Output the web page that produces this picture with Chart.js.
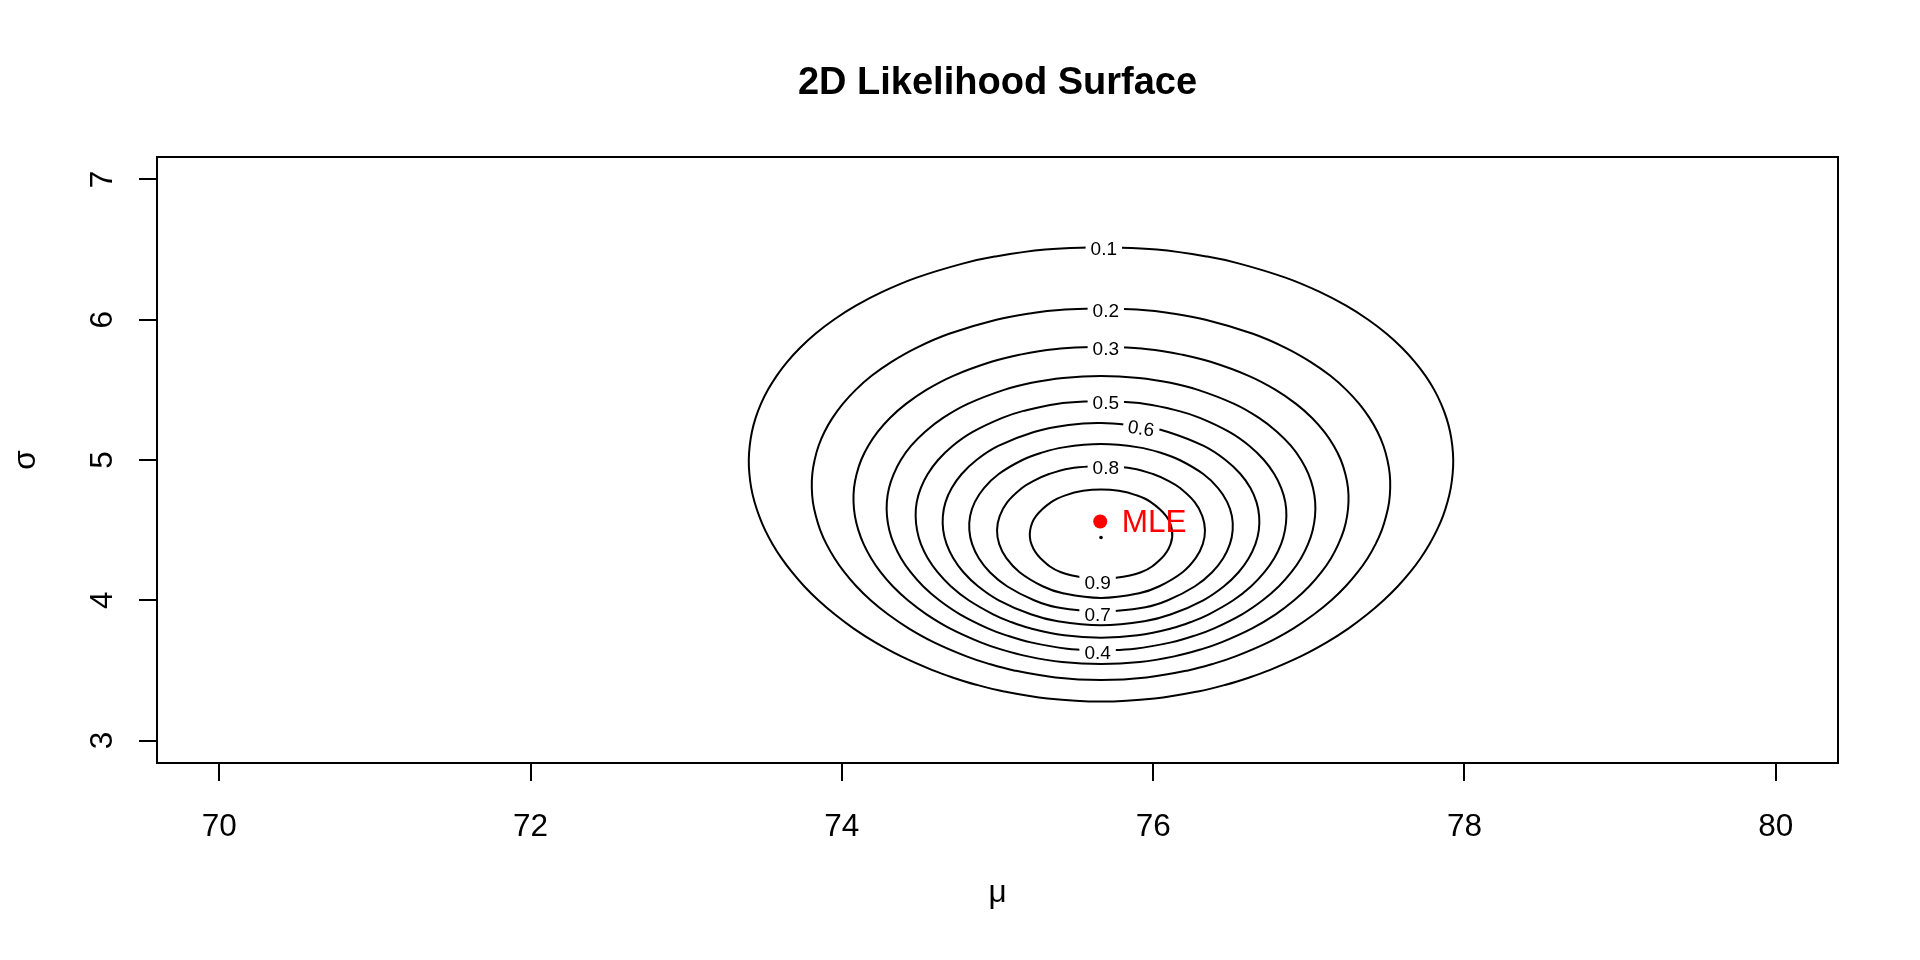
<!DOCTYPE html>
<html>
<head>
<meta charset="utf-8">
<script src="https://cdn.jsdelivr.net/npm/chart.js@4.4.0/dist/chart.umd.min.js"></script>
<style>
html,body{margin:0;padding:0;background:#ffffff;}
#wrap{width:1920px;height:960px;position:relative;}
</style>
</head>
<body>
<div id="wrap"><canvas id="c"></canvas></div>
<script>
// ---------------- values ----------------
const chartTitle = '2D Likelihood Surface';
const xTitle = 'μ';
const yTitle = 'σ';
const xTicks = [70, 72, 74, 76, 78, 80];
const yTicks = [3, 4, 5, 6, 7];
const levels = ['0.1', '0.2', '0.3', '0.4', '0.5', '0.6', '0.7', '0.8', '0.9'];

// contour lines, [mu, sigma] points traced round each closed curve
const contour01 = [
  [75.665,6.519],[75.307,6.50],[74.982,6.45],[74.776,6.40],[74.480,6.30],[74.263,6.20],[74.090,6.10],
  [73.948,6.00],[73.830,5.90],[73.732,5.80],[73.649,5.70],[73.581,5.60],[73.525,5.50],[73.480,5.40],
  [73.446,5.30],[73.422,5.20],[73.408,5.10],[73.402,5.00],[73.406,4.90],[73.418,4.80],[73.439,4.70],
  [73.469,4.60],[73.507,4.50],[73.555,4.40],[73.612,4.30],[73.680,4.20],[73.758,4.10],[73.849,4.00],
  [73.954,3.90],[74.074,3.80],[74.215,3.70],[74.382,3.60],[74.587,3.50],[74.711,3.45],[74.857,3.40],
  [75.042,3.35],[75.321,3.30],[75.665,3.278],[76.010,3.30],[76.288,3.35],[76.473,3.40],[76.619,3.45],
  [76.743,3.50],[76.948,3.60],[77.115,3.70],[77.256,3.80],[77.376,3.90],[77.481,4.00],[77.572,4.10],
  [77.651,4.20],[77.718,4.30],[77.775,4.40],[77.823,4.50],[77.862,4.60],[77.891,4.70],[77.912,4.80],
  [77.924,4.90],[77.928,5.00],[77.922,5.10],[77.908,5.20],[77.884,5.30],[77.850,5.40],[77.806,5.50],
  [77.750,5.60],[77.681,5.70],[77.598,5.80],[77.500,5.90],[77.382,6.00],[77.240,6.10],[77.067,6.20],
  [76.850,6.30],[76.554,6.40],[76.348,6.45],[76.023,6.50],[75.665,6.519]
];
const contour02 = [
  [75.665,6.0825],[75.397,6.07],[75.238,6.05],[74.993,6.00],[74.689,5.90],[74.479,5.80],[74.319,5.70],
  [74.191,5.60],[74.089,5.50],[74.006,5.40],[73.940,5.30],[73.888,5.20],[73.850,5.10],[73.825,5.00],
  [73.810,4.90],[73.807,4.80],[73.814,4.70],[73.833,4.60],[73.861,4.50],[73.901,4.40],[73.953,4.30],
  [74.016,4.20],[74.093,4.10],[74.185,4.00],[74.296,3.90],[74.429,3.80],[74.592,3.70],[74.801,3.60],
  [74.935,3.55],[75.106,3.50],[75.373,3.45],[75.665,3.432],[75.957,3.45],[76.224,3.50],[76.395,3.55],
  [76.529,3.60],[76.739,3.70],[76.902,3.80],[77.034,3.90],[77.145,4.00],[77.237,4.10],[77.314,4.20],
  [77.378,4.30],[77.429,4.40],[77.469,4.50],[77.497,4.60],[77.516,4.70],[77.523,4.80],[77.520,4.90],
  [77.505,5.00],[77.480,5.10],[77.442,5.20],[77.390,5.30],[77.324,5.40],[77.241,5.50],[77.139,5.60],
  [77.011,5.70],[76.851,5.80],[76.641,5.90],[76.337,6.00],[76.092,6.05],[75.933,6.07],[75.665,6.0825]
];
const contour03 = [
  [75.665,5.8087],[75.364,5.79],[75.141,5.75],[74.961,5.70],[74.716,5.60],[74.543,5.50],[74.412,5.40],
  [74.309,5.30],[74.230,5.20],[74.169,5.10],[74.124,5.00],[74.095,4.90],[74.078,4.80],[74.075,4.70],
  [74.084,4.60],[74.106,4.50],[74.140,4.40],[74.188,4.30],[74.249,4.20],[74.327,4.10],[74.424,4.00],
  [74.544,3.90],[74.694,3.80],[74.892,3.70],[75.022,3.65],[75.195,3.60],[75.415,3.56],[75.665,3.545],
  [75.915,3.56],[76.136,3.60],[76.308,3.65],[76.438,3.70],[76.636,3.80],[76.787,3.90],[76.906,4.00],
  [77.003,4.10],[77.081,4.20],[77.143,4.30],[77.190,4.40],[77.225,4.50],[77.246,4.60],[77.255,4.70],
  [77.252,4.80],[77.235,4.90],[77.206,5.00],[77.161,5.10],[77.100,5.20],[77.021,5.30],[76.918,5.40],
  [76.787,5.50],[76.614,5.60],[76.369,5.70],[76.189,5.75],[75.966,5.79],[75.665,5.8087]
];
const contour04 = [
  [75.665,3.642],[75.447,3.655],[75.214,3.70],[75.057,3.75],[74.938,3.80],[74.759,3.90],[74.626,4.00],
  [74.522,4.10],[74.442,4.20],[74.380,4.30],[74.335,4.40],[74.305,4.50],[74.290,4.60],[74.289,4.70],
  [74.303,4.80],[74.333,4.90],[74.379,5.00],[74.444,5.10],[74.533,5.20],[74.650,5.30],[74.809,5.40],
  [75.042,5.50],[75.219,5.55],[75.421,5.585],[75.665,5.5995],[75.909,5.585],[76.111,5.55],[76.288,5.50],
  [76.521,5.40],[76.680,5.30],[76.797,5.20],[76.886,5.10],[76.951,5.00],[76.998,4.90],[77.027,4.80],
  [77.041,4.70],[77.040,4.60],[77.025,4.50],[76.995,4.40],[76.950,4.30],[76.888,4.20],[76.808,4.10],
  [76.704,4.00],[76.571,3.90],[76.392,3.80],[76.273,3.75],[76.116,3.70],[75.883,3.655],[75.665,3.642]
];
const contour05 = [
  [75.665,5.423],[75.380,5.40],[75.167,5.35],[75.031,5.30],[74.841,5.20],[74.711,5.10],[74.618,5.00],
  [74.552,4.90],[74.507,4.80],[74.481,4.70],[74.474,4.60],[74.483,4.50],[74.508,4.40],[74.552,4.30],
  [74.615,4.20],[74.700,4.10],[74.815,4.00],[74.972,3.90],[75.076,3.85],[75.211,3.80],[75.429,3.75],
  [75.665,3.7327],[75.901,3.75],[76.119,3.80],[76.254,3.85],[76.358,3.90],[76.515,4.00],[76.630,4.10],
  [76.715,4.20],[76.778,4.30],[76.822,4.40],[76.847,4.50],[76.856,4.60],[76.849,4.70],[76.823,4.80],
  [76.778,4.90],[76.712,5.00],[76.619,5.10],[76.489,5.20],[76.300,5.30],[76.163,5.35],[75.950,5.40],
  [75.665,5.423]
];
const contour06 = [
  [75.925,5.241],[75.665,5.2638],[75.456,5.25],[75.234,5.20],[75.005,5.10],[74.865,5.00],[74.770,4.90],
  [74.706,4.80],[74.666,4.70],[74.649,4.60],[74.651,4.50],[74.673,4.40],[74.716,4.30],[74.781,4.20],
  [74.875,4.10],[75.008,4.00],[75.214,3.90],[75.387,3.85],[75.665,3.8217],[75.943,3.85],[76.116,3.90],
  [76.322,4.00],[76.455,4.10],[76.549,4.20],[76.614,4.30],[76.657,4.40],[76.679,4.50],[76.681,4.60],
  [76.664,4.70],[76.625,4.80],[76.561,4.90],[76.465,5.00],[76.325,5.10],[76.096,5.20],[75.925,5.241]
];
const contour07 = [
  [75.665,3.914],[75.380,3.95],[75.235,4.00],[75.061,4.10],[74.951,4.20],[74.880,4.30],[74.837,4.40],
  [74.819,4.50],[74.824,4.60],[74.854,4.70],[74.913,4.80],[75.008,4.90],[75.160,5.00],[75.278,5.05],
  [75.423,5.09],[75.665,5.1134],[75.907,5.09],[76.053,5.05],[76.170,5.00],[76.322,4.90],[76.417,4.80],
  [76.476,4.70],[76.506,4.60],[76.511,4.50],[76.493,4.40],[76.450,4.30],[76.379,4.20],[76.269,4.10],
  [76.095,4.00],[75.950,3.95],[75.665,3.914]
];
const contour08 = [
  [75.665,4.9596],[75.464,4.94],[75.331,4.90],[75.229,4.85],[75.157,4.80],[75.063,4.70],[75.014,4.60],
  [74.997,4.50],[75.011,4.40],[75.057,4.30],[75.142,4.20],[75.290,4.10],[75.420,4.05],[75.665,4.0165],
  [75.910,4.05],[76.040,4.10],[76.189,4.20],[76.273,4.30],[76.319,4.40],[76.333,4.50],[76.316,4.60],
  [76.267,4.70],[76.173,4.80],[76.101,4.85],[75.999,4.90],[75.866,4.94],[75.665,4.9596]
];
const contour09 = [
  [75.665,4.143],[75.408,4.20],[75.276,4.30],[75.218,4.40],[75.210,4.50],[75.247,4.60],[75.345,4.70],
  [75.441,4.75],[75.550,4.78],[75.665,4.790],[75.780,4.78],[75.889,4.75],[75.985,4.70],[76.084,4.60],
  [76.121,4.50],[76.112,4.40],[76.054,4.30],[75.922,4.20],[75.665,4.143]
];
const mlePoint = [75.66, 4.562];
const centreDot = [75.665, 4.447];
// where each contour label sits: [mu, sigma, rotation in degrees]
const labelAnchors = [
  [75.683,6.519,0],[75.696,6.0825,0],[75.696,5.8087,0],[75.643,3.642,0],[75.696,5.423,0],
  [75.925,5.241,9],[75.643,3.914,0],[75.696,4.9596,0],[75.643,4.143,0]
];
// ----------------------------------------------------------------

const FONT = '"Liberation Sans", Arial, Helvetica, sans-serif';
const contours = [contour01, contour02, contour03, contour04, contour05, contour06, contour07, contour08, contour09];

const datasets = contours.map((pts, i) => ({
  label: 'L = ' + levels[i],
  data: pts.map(p => ({x: p[0], y: p[1]})),
  showLine: true,
  borderColor: '#000000',
  borderWidth: 2,
  pointRadius: 0,
  pointHoverRadius: 0,
  tension: 0.4,
  fill: false
}));
datasets.push({
  label: 'centre',
  data: [{x: centreDot[0], y: centreDot[1]}],
  showLine: false, pointRadius: 1.8, pointHoverRadius: 1.8,
  backgroundColor: '#000000', borderWidth: 0
});
datasets.push({
  label: 'MLE',
  data: [{x: mlePoint[0], y: mlePoint[1]}],
  showLine: false, pointRadius: 7, pointHoverRadius: 7,
  backgroundColor: '#ff0000', borderColor: '#ff0000', borderWidth: 0
});

const decor = {
  id: 'decor',
  afterDatasetsDraw(chart) {
    const ctx = chart.ctx;
    const xs = chart.scales.x, ys = chart.scales.y;
    ctx.save();
    ctx.font = '19px ' + FONT;
    labelAnchors.forEach((a, i) => {
      const px = xs.getPixelForValue(a[0]);
      const py = ys.getPixelForValue(a[1]);
      const txt = levels[i];
      const w = ctx.measureText(txt).width;
      ctx.save();
      ctx.translate(px, py);
      ctx.rotate(a[2] * Math.PI / 180);
      ctx.fillStyle = '#ffffff';
      ctx.fillRect(-w / 2 - 5, -7, w + 10, 15);
      ctx.fillStyle = '#000000';
      ctx.textAlign = 'center';
      ctx.textBaseline = 'alphabetic';
      ctx.fillText(txt, 0, 8.5);
      ctx.restore();
    });
    ctx.restore();
    ctx.save();
    ctx.font = '31.5px ' + FONT;
    ctx.fillStyle = '#ff0000';
    ctx.textAlign = 'left';
    ctx.textBaseline = 'alphabetic';
    ctx.fillText('MLE', xs.getPixelForValue(mlePoint[0]) + 21.5, ys.getPixelForValue(mlePoint[1]) + 10.5);
    ctx.restore();
  },
  afterDraw(chart) {
    const ctx = chart.ctx;
    const ca = chart.chartArea;
    const xs = chart.scales.x, ys = chart.scales.y;
    ctx.save();
    ctx.strokeStyle = '#000000';
    ctx.lineWidth = 2;
    ctx.strokeRect(ca.left, ca.top, ca.right - ca.left, ca.bottom - ca.top);
    ctx.fillStyle = '#000000';
    ctx.font = '31.5px ' + FONT;
    ctx.textAlign = 'center';
    ctx.textBaseline = 'alphabetic';
    xTicks.forEach(v => ctx.fillText(String(v), xs.getPixelForValue(v), 836));
    yTicks.forEach(v => {
      ctx.save();
      ctx.translate(112, ys.getPixelForValue(v));
      ctx.rotate(-Math.PI / 2);
      ctx.fillText(String(v), 0, 0);
      ctx.restore();
    });
    ctx.fillText(xTitle, (ca.left + ca.right) / 2, 902);
    ctx.save();
    ctx.translate(35, (ca.top + ca.bottom) / 2);
    ctx.rotate(-Math.PI / 2);
    ctx.fillText(yTitle, 0, 0);
    ctx.restore();
    ctx.font = 'bold 38px ' + FONT;
    ctx.fillText(chartTitle, (ca.left + ca.right) / 2, 94);
    ctx.restore();
  }
};

new Chart(document.getElementById('c'), {
  type: 'scatter',
  data: { datasets },
  options: {
    responsive: true,
    maintainAspectRatio: false,
    animation: false,
    devicePixelRatio: 1,
    events: [],
    layout: { padding: { top: 157, right: 82, left: 0, bottom: 0 } },
    plugins: { legend: { display: false }, tooltip: { enabled: false }, title: { display: false } },
    scales: {
      x: {
        type: 'linear', min: 69.6, max: 80.4,
        afterBuildTicks: s => { s.ticks = xTicks.map(v => ({ value: v })); },
        afterFit: s => { s.height = 197; },
        grid: { display: true, drawOnChartArea: false, drawTicks: true, tickLength: 18, color: '#000000', lineWidth: 2 },
        border: { display: false },
        ticks: { display: false }
      },
      y: {
        type: 'linear', min: 2.84, max: 7.16,
        afterBuildTicks: s => { s.ticks = yTicks.map(v => ({ value: v })); },
        afterFit: s => { s.width = 157; },
        grid: { display: true, drawOnChartArea: false, drawTicks: true, tickLength: 18, color: '#000000', lineWidth: 2 },
        border: { display: false },
        ticks: { display: false }
      }
    }
  },
  plugins: [decor]
});
</script>
</body>
</html>
